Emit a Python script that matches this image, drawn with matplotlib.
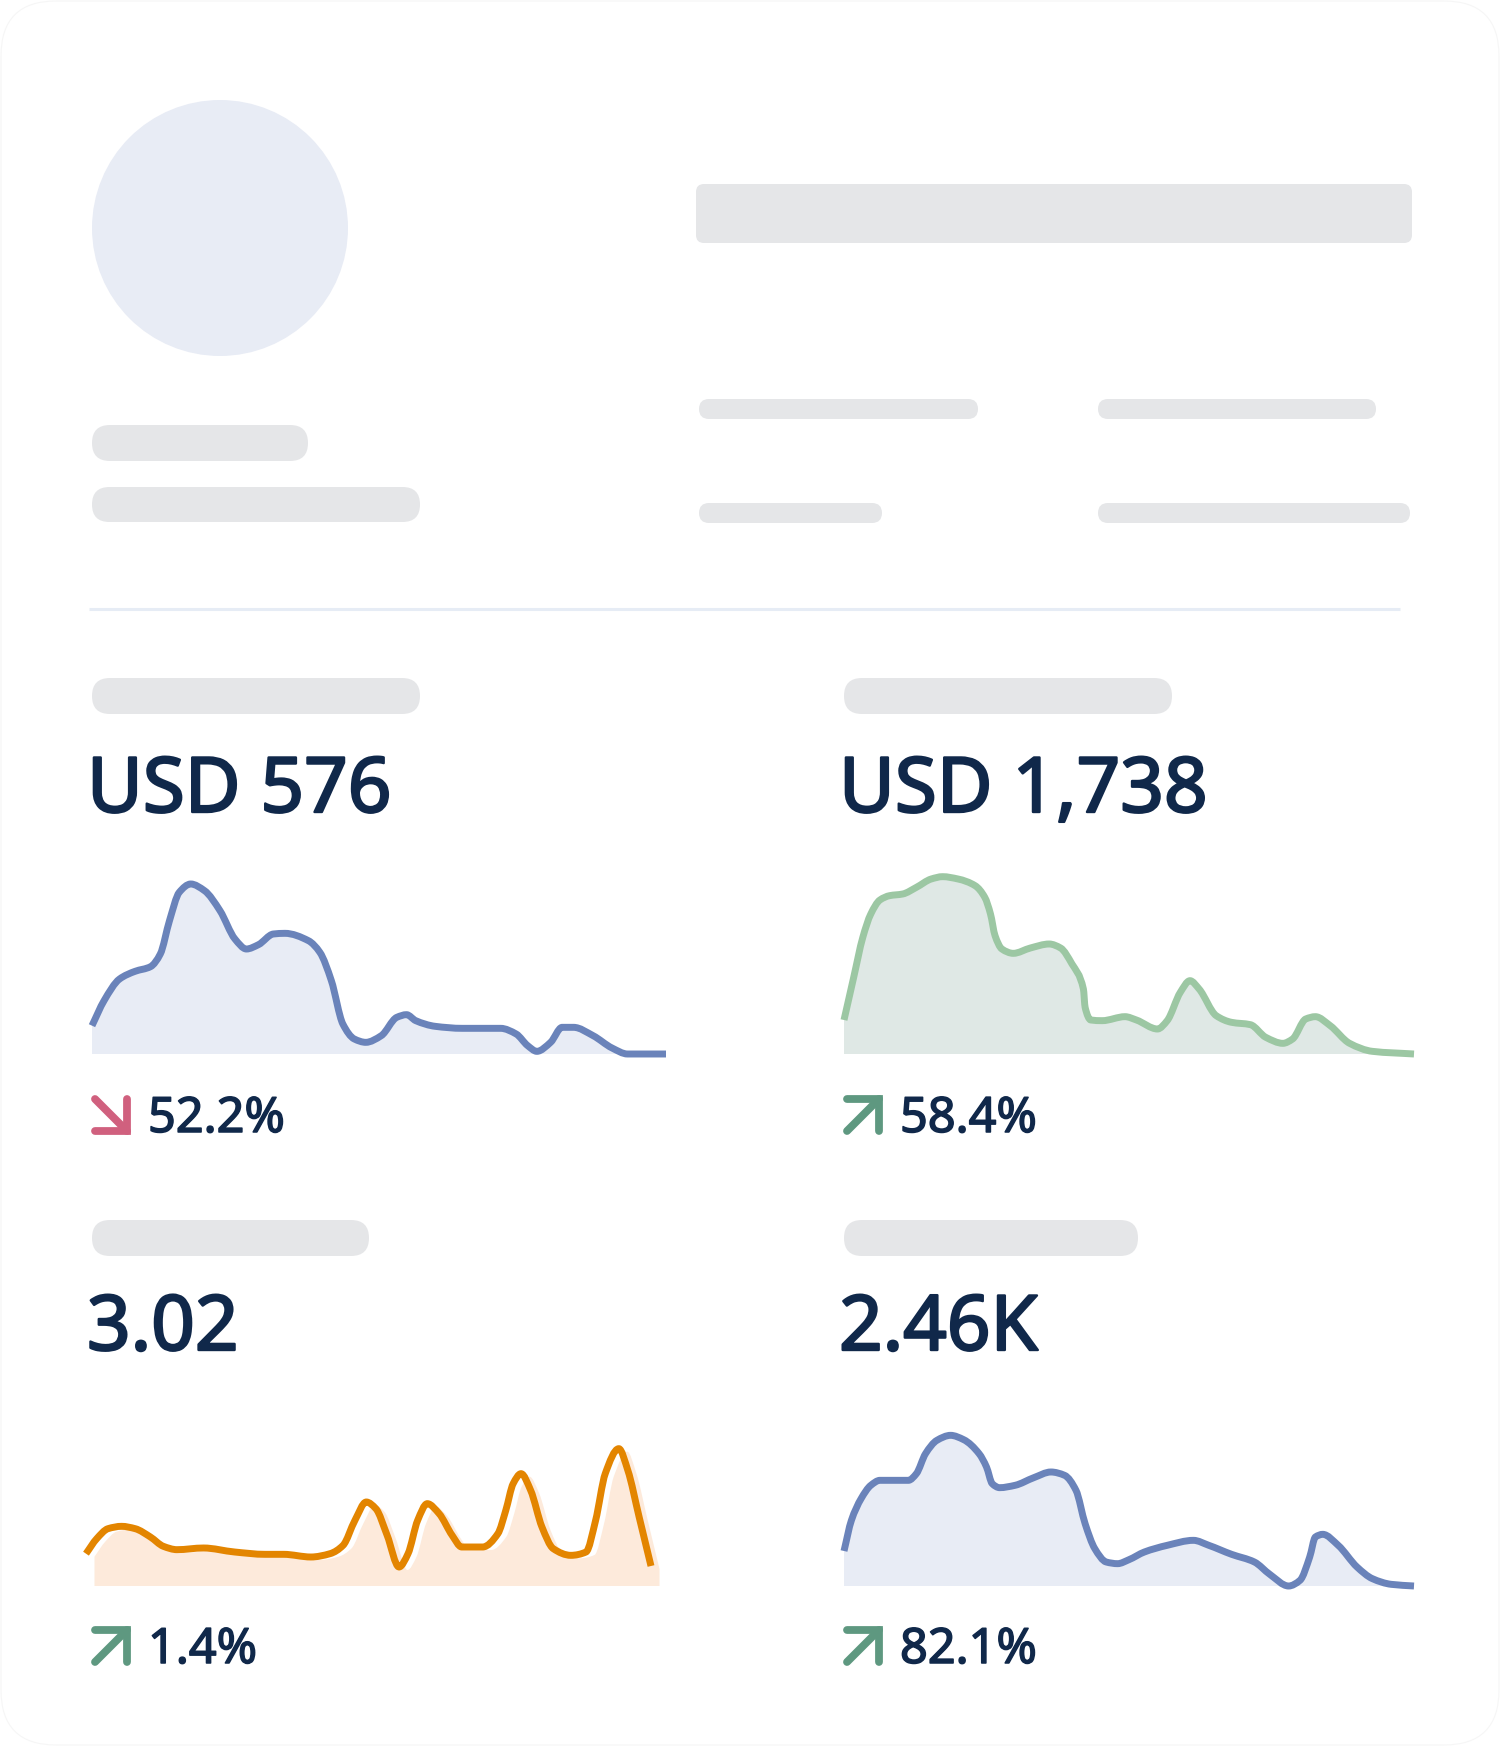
import numpy as np
import matplotlib
matplotlib.use("Agg")
import matplotlib.pyplot as plt
import matplotlib.patheffects as pe
from matplotlib.path import Path
from matplotlib.patches import PathPatch, FancyBboxPatch, Circle
from matplotlib import transforms

W, H, DPI = 1500, 1746, 100

# KPI tiles (values read from the card)
kpi_values = ["USD 576", "USD 1,738", "3.02", "2.46K"]
kpi_changes = ["52.2%", "58.4%", "1.4%", "82.1%"]
kpi_up = [False, True, True, True]

# sparkline traces: position along the period (0-100) and level
trend1_pos = [0, 2.1, 4.8, 7.5, 10.2, 11.9, 13.5, 15.2, 17.2, 19.6, 22.3, 24.9, 26.9, 29.0,
              31.6, 33.6, 37.7, 39.7, 41.7, 43.7, 45.7, 47.7, 50.4, 53.1, 54.8, 56.4, 59.8,
              64.5, 71.2, 73.9, 75.9, 77.5, 79.9, 81.9, 83.9, 87.3, 90.6, 93.3, 100]
trend1_val = [85, 160, 225, 248, 262, 300, 400, 485, 510, 490, 430, 345, 315, 328,
              360, 362, 340, 305, 220, 90, 45, 35, 55, 110, 118, 100, 83,
              77, 77, 60, 25, 8, 35, 80, 80, 55, 18, 0, 0]

trend2_pos = [0, 1.7, 3.3, 4.7, 6.3, 8.0, 10.3, 12.7, 15.3, 17.3, 20.0, 23.0, 24.7, 25.7,
              26.5, 27.7, 29.7, 32.7, 36.0, 38.0, 40.0, 42.0, 42.3, 43.3, 45.3, 49.3, 51.3,
              55.0, 56.7, 59.0, 60.7, 62.3, 65.3, 68.0, 71.3, 74.0, 77.0, 78.7, 81.0, 82.7,
              85.3, 88.7, 92.7, 100]
trend2_val = [102, 230, 350, 420, 462, 475, 480, 500, 525, 532, 525, 505, 470, 420,
              355, 315, 302, 318, 330, 318, 270, 195, 140, 102, 100, 112, 102,
              75, 100, 185, 220, 195, 115, 95, 88, 50, 32, 45, 105, 112,
              85, 32, 8, 0]

trend3_pos = [0, 1.9, 3.9, 6.3, 8.7, 11.4, 13.7, 16.1, 20.8, 26.3, 31.7, 35.0, 39.8, 43.2,
              45.5, 47.6, 49.6, 51.3, 53.3, 55.4, 57.0, 58.7, 60.4, 62.5, 64.8, 66.5, 70.2,
              72.9, 74.3, 75.6, 77.0, 78.7, 80.7, 82.7, 85.8, 88.5, 90.2, 91.9, 94.3, 95.9,
              97.9, 100]
trend3_val = [88, 133, 163, 170, 163, 138, 110, 100, 105, 93, 86, 86, 78, 88,
              113, 188, 243, 223, 143, 48, 88, 188, 238, 208, 143, 108, 108,
              148, 218, 298, 328, 278, 168, 103, 83, 93, 188, 328, 403, 338,
              198, 51]

trend4_pos = [0, 1.3, 3.0, 4.7, 6.3, 8.7, 11.3, 12.7, 14.3, 16.3, 18.7, 21.0, 23.7, 25.0,
              26.0, 27.3, 30.0, 33.3, 36.3, 38.7, 40.7, 42.3, 44.0, 46.0, 48.0, 50.0, 52.7,
              56.7, 61.3, 64.0, 68.0, 72.0, 74.7, 78.0, 80.0, 81.7, 82.7, 84.0, 86.7, 90.0,
              92.7, 96.0, 100]
trend4_val = [105, 197, 262, 302, 317, 317, 317, 337, 397, 437, 452, 439, 397, 357,
              307, 295, 302, 325, 342, 332, 287, 187, 112, 72, 67, 79, 102,
              122, 137, 122, 95, 72, 35, 0, 17, 87, 147, 155, 122, 57,
              22, 5, 0]

NAVY = "#10284A"
GRAY = "#E5E6E8"
BLUE, BLUE_FILL = "#6A83BA", "#E8ECF5"
GREEN, GREEN_FILL = "#9CC7A3", "#DFE8E5"
ORANGE, ORANGE_FILL = "#E38500", "#FDEADB"
RED_ARROW, GREEN_ARROW = "#D0607E", "#5E9880"
FONT = ["Noto Sans", "DejaVu Sans"]


def smooth_path(xs, ys):
    # monotone cubic through the traced points, written as bezier segments
    x = np.asarray(xs, float)
    y = np.asarray(ys, float)
    h = np.diff(x)
    d = np.diff(y) / h
    m = np.zeros_like(y)
    m[0], m[-1] = d[0], d[-1]
    for i in range(1, len(y) - 1):
        if d[i - 1] * d[i] > 0:
            w1 = 2 * h[i] + h[i - 1]
            w2 = h[i] + 2 * h[i - 1]
            m[i] = (w1 + w2) / (w1 / d[i - 1] + w2 / d[i])
    verts = [(x[0], y[0])]
    codes = [Path.MOVETO]
    for i in range(len(h)):
        verts += [(x[i] + h[i] / 3, y[i] + m[i] * h[i] / 3),
                  (x[i + 1] - h[i] / 3, y[i + 1] - m[i + 1] * h[i] / 3),
                  (x[i + 1], y[i + 1])]
        codes += [Path.CURVE4] * 3
    return verts, codes


fig = plt.figure(figsize=(W / DPI, H / DPI), dpi=DPI)
fig.patch.set_facecolor("white")

bg = fig.add_axes([0, 0, 1, 1])
bg.set_xlim(0, W)
bg.set_ylim(H, 0)
bg.axis("off")


def pill(x0, x1, y0, y1, r=None, color=GRAY):
    hgt = y1 - y0
    r = hgt / 2 if r is None else r
    bg.add_patch(FancyBboxPatch((x0, y0), x1 - x0, hgt,
                                boxstyle=f"round,pad=0,rounding_size={r}",
                                fc=color, ec="none"))


# card outline (barely visible)
bg.add_patch(FancyBboxPatch((1, 1), W - 2, H - 2, boxstyle="round,pad=0,rounding_size=55",
                            fc="white", ec="#F6F6F6", lw=0.8))

# profile header skeleton
bg.add_patch(Circle((220, 228), 128, fc=BLUE_FILL, ec="none"))
pill(696, 1412, 184, 243, r=8)
pill(92, 308, 425, 461)
pill(92, 420, 487, 522)
pill(699, 978, 399, 419)
pill(1098, 1376, 399, 419)
pill(699, 882, 503, 523)
pill(1098, 1410, 503, 523)
bg.plot([89, 1400], [609, 609], color="#E6ECF5", lw=2.2, solid_capstyle="butt")

# KPI label skeletons
pill(92, 420, 678, 714)
pill(844, 1172, 678, 714)
pill(92, 369, 1220, 1256)
pill(844, 1138, 1220, 1256)


def arrow(x0, y0, up, color):
    s = 32
    lw = 5.6
    if up:
        bg.plot([x0, x0 + s], [y0 + s, y0], color=color, lw=lw, solid_capstyle="round")
        bg.plot([x0, x0 + s, x0 + s], [y0, y0, y0 + s], color=color, lw=lw,
                solid_capstyle="round", solid_joinstyle="miter")
    else:
        bg.plot([x0, x0 + s], [y0, y0 + s], color=color, lw=lw, solid_capstyle="round")
        bg.plot([x0, x0 + s, x0 + s], [y0 + s, y0 + s, y0], color=color, lw=lw,
                solid_capstyle="round", solid_joinstyle="miter")


cols = [92, 844]
value_base = [812, 1350]
change_base = [1132, 1663]
bold_big = [pe.withStroke(linewidth=1.7, foreground=NAVY)]
bold_small = [pe.withStroke(linewidth=1.1, foreground=NAVY)]
for k in range(4):
    row, col = divmod(k, 2)
    x = cols[col]
    bg.text(x - 5, value_base[row], kpi_values[k], fontsize=55,
            color=NAVY, family=FONT, va="baseline", ha="left", path_effects=bold_big)
    arrow(x + 3, change_base[row] - 33, kpi_up[k], GREEN_ARROW if kpi_up[k] else RED_ARROW)
    bg.text(x + 56, change_base[row], kpi_changes[k], fontsize=35,
            color=NAVY, family=FONT, va="baseline", ha="left", path_effects=bold_small)


def sparkline(x0, x1, base, xs, ys, line_c, fill_c, shift=(0, 0)):
    ax = fig.add_axes([x0 / W, 1 - base / H, (x1 - x0) / W, 200 / H])
    ax.set_xlim(0, 100)
    ax.set_ylim(0, 600)
    ax.axis("off")
    verts, codes = smooth_path(xs, ys)
    tr = transforms.offset_copy(ax.transData, fig=fig, x=shift[0], y=shift[1], units="dots")
    area = Path(verts + [(xs[-1], 0), (xs[0], 0), (xs[0], 0)],
                codes + [Path.LINETO, Path.LINETO, Path.CLOSEPOLY])
    ax.add_patch(PathPatch(area, fc=fill_c, ec="none", transform=tr, clip_on=False))
    ax.add_patch(PathPatch(Path(verts, codes), fc="none", ec=line_c, lw=5.0,
                           capstyle="butt", joinstyle="round", clip_on=False))


sparkline(92, 666, 1054, trend1_pos, trend1_val, BLUE, BLUE_FILL)
sparkline(844, 1414, 1054, trend2_pos, trend2_val, GREEN, GREEN_FILL)
sparkline(86, 651, 1583, trend3_pos, trend3_val, ORANGE, ORANGE_FILL, shift=(8.5, -3))
sparkline(844, 1414, 1586, trend4_pos, trend4_val, BLUE, BLUE_FILL)

fig.savefig("out.png", dpi=DPI, facecolor="white")
